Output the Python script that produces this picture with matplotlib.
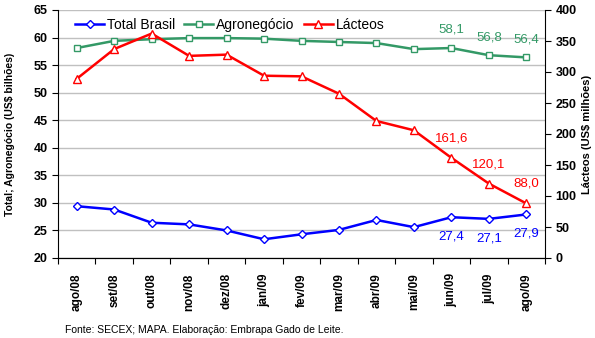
import matplotlib
matplotlib.use("Agg")
import matplotlib.pyplot as plt

plt.rcParams['font.family'] = ['Liberation Sans', 'DejaVu Sans']

meses = ["ago/08", "set/08", "out/08", "nov/08", "dez/08", "jan/09", "fev/09",
         "mar/09", "abr/09", "mai/09", "jun/09", "jul/09", "ago/09"]
total_brasil = [29.4, 28.8, 26.4, 26.1, 25.0, 23.4, 24.3, 25.1, 26.9, 25.6, 27.4, 27.1, 27.9]
agronegocio = [58.1, 59.4, 59.7, 59.9, 59.9, 59.8, 59.4, 59.2, 59.0, 57.9, 58.1, 56.8, 56.4]
lacteos = [289, 337, 362, 326, 328, 294, 293, 265, 221, 206, 161.6, 120.1, 88.0]

azul = "#0000FF"
verde = "#339966"
vermelho = "#FF0000"

fig = plt.figure(figsize=(5.95, 3.38), dpi=100)
ax = fig.add_axes([58 / 595, 1 - 258 / 338, (545 - 58) / 595, (258 - 10) / 338])
ax2 = ax.twinx()

x = list(range(len(meses)))

l1, = ax.plot(x, total_brasil, color=azul, lw=1.8, marker="D", ms=4.5,
              mfc="white", mec=azul, mew=1, label="Total Brasil", zorder=3)
l2, = ax.plot(x, agronegocio, color=verde, lw=1.8, marker="s", ms=5,
              mfc="white", mec=verde, mew=1, label="Agronegócio", zorder=3)
l3, = ax2.plot(x, lacteos, color=vermelho, lw=1.8, marker="^", ms=6,
               mfc="white", mec=vermelho, mew=1, label="Lácteos", zorder=3)

ax.set_ylim(20, 65)
ax.set_yticks(range(20, 66, 5))
ax2.set_ylim(0, 400)
ax2.set_yticks(range(0, 401, 50))
ax.set_xlim(-0.5, len(meses) - 0.5)

ax.grid(axis="y", color="#C0C0C0", lw=1)
ax.set_axisbelow(True)

# ticks between categories
ax.set_xticks([i + 0.5 for i in range(-1, len(meses))])
ax.set_xticklabels([])
ax.set_xticks(x, minor=True)
ax.set_xticklabels(meses, minor=True, rotation=90, fontsize=8.5, fontweight="bold")
ax.tick_params(axis="x", which="minor", length=0, pad=11)
ax.tick_params(axis="x", which="major", length=4, direction="out")

for a in (ax, ax2):
    a.tick_params(axis="y", labelsize=9, length=4, direction="out")
    for lab in a.get_yticklabels():
        lab.set_fontweight("bold")
    a.spines["top"].set_visible(False)
ax.spines["right"].set_visible(False)
ax2.spines["left"].set_visible(False)

ax.set_ylabel("Total; Agronegócio (US$ bilhões)", fontsize=7.5, fontweight="bold")
ax2.set_ylabel("Lácteos (US$ milhões)", fontsize=8, fontweight="bold")
ax.yaxis.set_label_coords(-0.088, 0.5)
ax2.yaxis.set_label_coords(1.077, 0.5)

# data labels on the last three months
for i in range(10, 13):
    ax.annotate(f"{agronegocio[i]:.1f}".replace(".", ","), (i, agronegocio[i]),
                xytext=(0, 13), textcoords="offset points", ha="center",
                va="center", color=verde, fontsize=9.5)
    ax.annotate(f"{total_brasil[i]:.1f}".replace(".", ","), (i, total_brasil[i]),
                xytext=(0, -14), textcoords="offset points", ha="center",
                va="center", color=azul, fontsize=9.5)
    ax2.annotate(f"{lacteos[i]:.1f}".replace(".", ","), (i, lacteos[i]),
                 xytext=(0, 14), textcoords="offset points", ha="center",
                 va="center", color=vermelho, fontsize=9.5)

ax2.legend(handles=[l1, l2, l3], loc="center left", bbox_to_anchor=(0.035, 0.94),
           ncol=3, frameon=False, fontsize=10, handlelength=2.1,
           handletextpad=0.2, columnspacing=0.65, borderaxespad=0, borderpad=0)

fig.text(65 / 595, 1 - 330 / 338, "Fonte: SECEX; MAPA. Elaboração: Embrapa Gado de Leite.",
         fontsize=7.5, va="center", ha="left")

fig.savefig("out.png", dpi=100)
